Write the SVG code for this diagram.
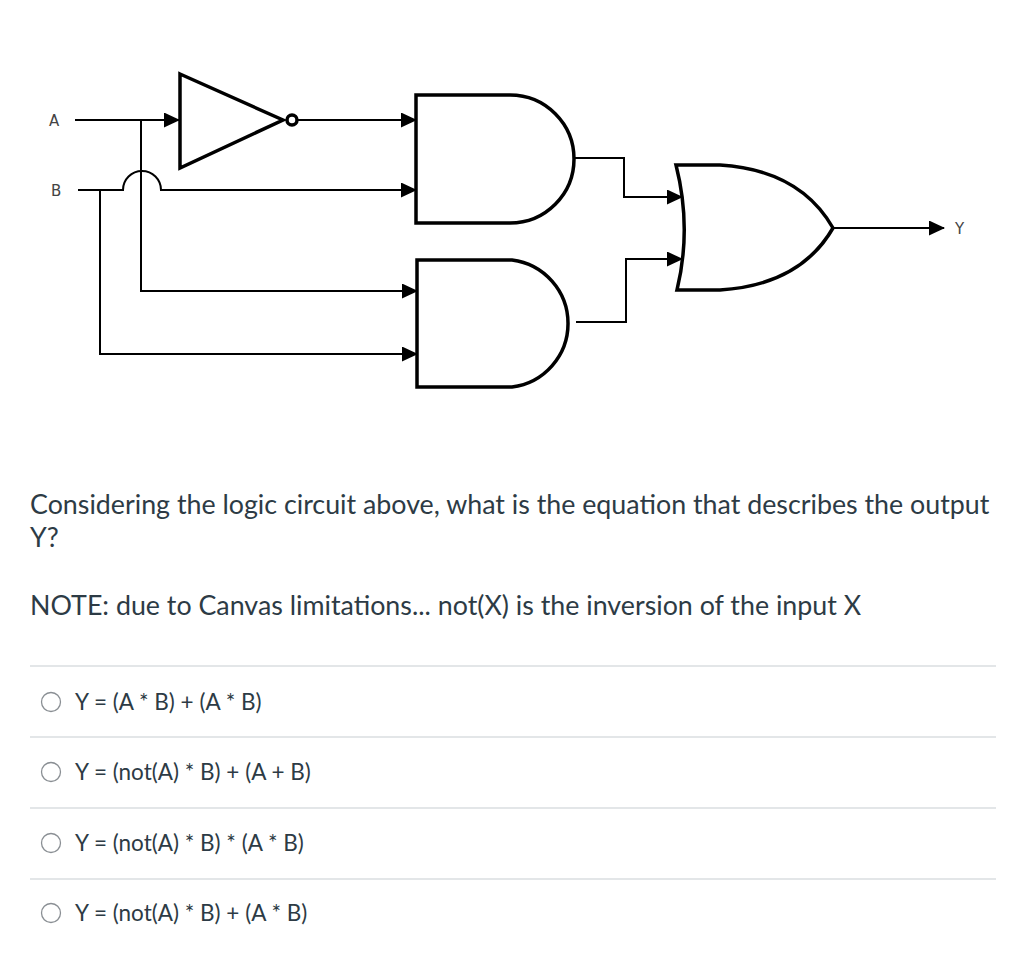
<svg xmlns="http://www.w3.org/2000/svg" width="1024" height="963" viewBox="0 0 1024 963">
<style>
.w{fill:none;stroke:#000;stroke-width:2}
.g{fill:none;stroke:#000;stroke-width:3.5}
.lbl{font-family:"DejaVu Sans",sans-serif;font-size:15px;fill:#444}
.q{font-family:Lato,"Open Sans",sans-serif;font-size:26.8px;fill:#2d3b45}
.o{font-family:Lato,"Open Sans",sans-serif;font-size:22.5px;fill:#2d3b45}
.sep{stroke:#c7cdd1;stroke-width:1}
.rd{fill:#fff;stroke:#8a8f94;stroke-width:1.3}
</style>
<defs>
<marker id="ar" markerWidth="16" markerHeight="16" refX="15" refY="7.5" orient="auto" markerUnits="userSpaceOnUse">
<path d="M0,0 L16,7.5 L0,15 Z" fill="#000"/>
</marker>
</defs>
<rect width="1024" height="963" fill="#fff"/>
<text class="lbl" x="49" y="126">A</text>
<text class="lbl" x="51" y="196">B</text>
<text class="lbl" x="955" y="234">Y</text>
<g id="connectors">
<path class="w" d="M75,120 H179" marker-end="url(#ar)"/>
<path class="w" d="M298,120 H416" marker-end="url(#ar)"/>
<path class="w" d="M78,190 H123 A19,19 0 0 1 161,190 H416" marker-end="url(#ar)"/>
<path class="w" d="M141,120 V291 H417" marker-end="url(#ar)"/>
<path class="w" d="M100,190 V354 H417" marker-end="url(#ar)"/>
<path class="w" d="M574,158 H624 V197 H682" marker-end="url(#ar)"/>
<path class="w" d="M576,322 H626 V259 H682" marker-end="url(#ar)"/>
<path class="w" d="M833,228 H944" marker-end="url(#ar)"/>
</g>
<g id="not">
<path class="g" d="M180,74 L283,120 L180,168 Z"/>
<circle class="g" cx="292" cy="120" r="5"/>
</g>
<g id="and1"><path class="g" d="M416,95 H510 A64,64 0 0 1 510,223 H416 Z"/></g>
<g id="and2"><path class="g" d="M417,260 H512 A64,64 0 0 1 512,387 H417 Z"/></g>
<g id="or"><path class="g" d="M676,165 H720 Q800,170 833,228 Q800,285 720,290 H677 Q692,228 676,165 Z"/></g>
<text class="q" x="30" y="514">Considering the logic circuit above, what is the equation that describes the output</text>
<text class="q" x="30" y="547">Y?</text>
<text class="q" x="30" y="615">NOTE: due to Canvas limitations... not(X) is the inversion of the input X</text>
<line class="sep" x1="30" y1="666" x2="996" y2="666"/>
<line class="sep" x1="30" y1="737" x2="996" y2="737"/>
<line class="sep" x1="30" y1="808" x2="996" y2="808"/>
<line class="sep" x1="30" y1="879" x2="996" y2="879"/>
<circle class="rd" cx="51" cy="702" r="9.5"/>
<circle class="rd" cx="51" cy="772" r="9.5"/>
<circle class="rd" cx="51" cy="843" r="9.5"/>
<circle class="rd" cx="51" cy="913" r="9.5"/>
<text class="o" x="75" y="710">Y = (A * B) + (A * B)</text>
<text class="o" x="75" y="780">Y = (not(A) * B) + (A + B)</text>
<text class="o" x="75" y="851">Y = (not(A) * B) * (A * B)</text>
<text class="o" x="75" y="921">Y = (not(A) * B) + (A * B)</text>
</svg>
